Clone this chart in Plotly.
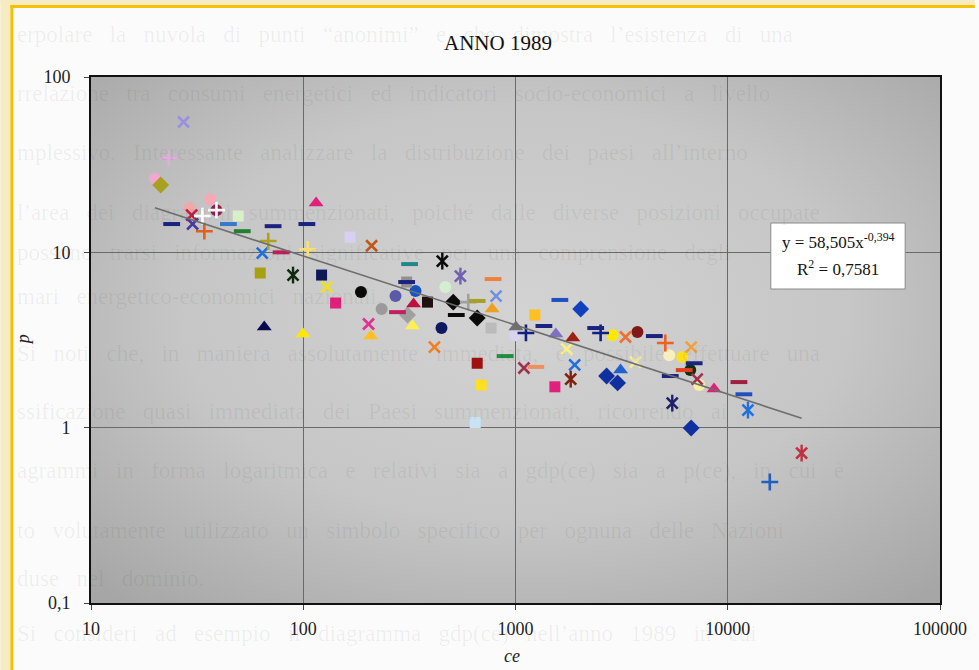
import base64
import numpy as np
import plotly.graph_objects as go

# ---- ANNO 1989: p versus ce, one marker per country ----
circle_ce = [20, 36.5, 39.0, 29.1, 187, 272, 234, 338, 467, 448, 995, 2866, 3754, 5300, 6105, 6657, 7334]
circle_p = [26.2, 20.1, 17.4, 17.9, 5.94, 5.63, 4.75, 6.02, 6.34, 3.70, 3.37, 3.37, 3.51, 2.59, 2.53, 2.13, 1.75]
circle_col = ["#F0A8D0", "#F7A8B4", "#8B2252", "#F0A8A8", "#0A0A0A", "#5A5AA8", "#9A9A9A", "#1454C0",
              "#D4EED0", "#101860", "#D8D4F0", "#FFE800", "#801818", "#F8F0BC", "#FFE020", "#0F300F", "#F8F0A0"]

square_ce = [49.4, 166, 62.7, 122, 142, 307, 385, 767, 1234, 660, 1533, 689, 646]
square_p = [16.1, 12.2, 7.62, 7.42, 5.14, 6.77, 5.20, 3.70, 4.39, 2.33, 1.71, 1.75, 1.07]
square_col = ["#D8F0C8", "#D8D0F0", "#A8A010", "#101858", "#E0207A", "#909090", "#201010", "#BBBBBB",
              "#FFC020", "#A01010", "#E0207A", "#FFE020", "#C8E4F4"]

diamond_ce = [21.3, 509, 310, 660, 2028, 2687, 3027, 6724]
diamond_p = [24.2, 5.20, 4.39, 4.22, 4.75, 1.97, 1.80, 0.995]
diamond_col = ["#A8A020", "#0A0A0A", "#A0A0A0", "#0A0A0A", "#1040C0", "#1030A0", "#1030A0", "#1030A0"]

triangle_ce = [115, 65.5, 99.7, 208, 331, 776, 327, 1005, 1549, 1862, 3126, 8616]
triangle_p = [19.1, 3.75, 3.42, 3.33, 5.07, 4.75, 3.80, 3.75, 3.42, 3.25, 2.13, 1.66]
triangle_col = ["#E0207A", "#0A0A50", "#FFE800", "#FFC020", "#C01040", "#F0A020", "#FFF050", "#707070",
                "#8070C0", "#A02010", "#2060D0", "#E0207A"]

cross_ce = [27.3, 29.8, 30.1, 210, 64.1, 129, 203, 810, 415, 1743, 1096, 1901, 3298, 6724, 7177, 3674]
cross_p = [55.4, 16.3, 14.5, 10.9, 9.9, 6.34, 3.90, 5.63, 2.88, 2.81, 2.19, 2.28, 3.29, 2.88, 1.89, 2.37]
cross_col = ["#9B8FE0", "#C02040", "#4838A0", "#C05818", "#2070E0", "#F0E020", "#E03090", "#7090E0",
             "#F08020", "#F8F080", "#A03050", "#2070E0", "#F07030", "#F0A040", "#A03050", "#F4ECA0"]

star_ce = [89.5, 452, 550, 1820, 12450, 5477, 22290]
star_p = [7.42, 8.91, 7.32, 1.89, 1.26, 1.38, 0.716]
star_col = ["#0F2A0F", "#0A0A0A", "#7060B0", "#802010", "#2070E0", "#20206A", "#C03040"]

plus_ce = [23.2, 39.0, 33.5, 34.2, 68.4, 105, 599, 1120, 2518, 5079, 15780]
plus_p = [34.5, 17.4, 16.1, 13.2, 11.6, 10.4, 5.20, 3.47, 3.47, 3.04, 0.49]
plus_col = ["#E8A8E0", "#FFFFFF", "#FFFFFF", "#E06020", "#B0A020", "#F8E070", "#A0A0A0", "#102080",
            "#102080", "#F06020", "#2060C0"]

dash_ce = [24.0, 44.4, 51.6, 72.1, 104, 78.7, 278, 317, 307, 784, 660, 526, 1361, 1618, 2387, 894,
           1247, 4508, 6946, 6237, 5358, 11290, 11910]
dash_p = [14.5, 14.5, 13.2, 14.1, 14.5, 10.0, 4.56, 8.57, 6.77, 7.04, 5.28, 4.39, 3.80, 5.35, 3.70, 2.56,
          2.22, 3.33, 2.33, 2.13, 1.97, 1.82, 1.55]
dash_col = ["#1A237E", "#3878C8", "#208030", "#1A237E", "#1A237E", "#C0205A", "#C02060", "#208888",
            "#1A237E", "#F08040", "#A8A020", "#0A0A0A", "#1A237E", "#2050C0", "#1A237E", "#209040",
            "#F09060", "#1A237E", "#1A237E", "#E04020", "#1A237E", "#A02040", "#2050C0"]

# power trendline y = A * x^B
trend_A = 58.505
trend_B = -0.394
trend_R2 = "0,7581"

x_ticks = [10, 100, 1000, 10000, 100000]
x_ticktext = ["10", "100", "1000", "10000", "100000"]
y_ticks = [0.1, 1, 10, 100]
y_ticktext = ["0,1", "1", "10", "100"]

page_lines = [
    "erpolare  la  nuvola  di  punti  \u201canonimi\u201d  e  che  dimostra  l\u2019esistenza  di  una",
    "rrelazione  tra  consumi  energetici  ed  indicatori  socio-economici  a  livello",
    "mplessivo.  Interessante  analizzare  la  distribuzione  dei  paesi  all\u2019interno",
    "l\u2019area  dei  diagrammi  summenzionati,  poich\u00e9  dalle  diverse  posizioni  occupate",
    "possono  trarsi  informazioni  significative  per  una  comprensione  degli",
    "mari  energetico-economici  nazionali.",
    "Si  noti  che,  in  maniera  assolutamente  immediata,  \u00e8  possibile  effettuare  una",
    "ssificazione  quasi  immediata  dei  Paesi  summenzionati,  ricorrendo  ai",
    "agrammi  in  forma  logaritmica  e  relativi  sia  a  gdp(ce)  sia  a  p(ce),  in  cui  \u00e8",
    "to  volutamente  utilizzato  un  simbolo  specifico  per  ognuna  delle  Nazioni",
    "duse  nel  dominio.",
    "Si  consideri  ad  esempio  il  diagramma  gdp(ce)  nell\u2019anno  1989  in  cui",
]
page_line_y = [34, 93, 152, 212, 252, 296, 353, 411, 470, 530, 578, 633]

# ---- geometry of the plotting area (pixels) ----
W, H = 979, 670
L, R, T, B = 91, 944, 77, 603
PW, PH = R - L, B - T


def fx(px):
    return (px - L) / PW


def fy(py):
    return (B - py) / PH


SERIF = "Liberation Serif, Times New Roman, serif"

fig = go.Figure()


def add_group(xs, ys, cols, symbol, size, lw=0.0):
    open_sym = symbol.endswith("open")
    marker = dict(symbol=symbol, size=size, color=cols)
    if open_sym:
        marker["line"] = dict(width=lw, color=cols)
    else:
        marker["line"] = dict(width=0)
    fig.add_trace(go.Scatter(x=xs, y=ys, mode="markers", marker=marker,
                             hoverinfo="x+y", showlegend=False))


add_group(circle_ce, circle_p, circle_col, "circle", 12)
add_group(square_ce, square_p, square_col, "square", 11)
add_group(diamond_ce, diamond_p, diamond_col, "diamond", 13)
add_group(triangle_ce, triangle_p, triangle_col, "triangle-up", 13)
add_group(cross_ce, cross_p, cross_col, "x-thin-open", 11, 2.6)
add_group(star_ce, star_p, star_col, "x-thin-open", 11, 2.6)
add_group(star_ce, star_p, star_col, "line-ns-open", 12, 2.4)
add_group(plus_ce, plus_p, plus_col, "cross-thin-open", 12, 2.6)
add_group(dash_ce, dash_p, dash_col, "line-ew-open", 12, 4)

# trendline over the span of the data
all_ce = circle_ce + square_ce + diamond_ce + triangle_ce + cross_ce + star_ce + plus_ce + dash_ce
tx = np.logspace(np.log10(min(all_ce)), np.log10(max(all_ce)), 60)
fig.add_trace(go.Scatter(x=tx, y=trend_A * tx ** trend_B, mode="lines",
                         line=dict(color="#6E6E6E", width=1.6), hoverinfo="skip", showlegend=False))

# grey gradient behind the plotting area
grad_svg = (
    '<svg xmlns="http://www.w3.org/2000/svg" width="853" height="526" viewBox="0 0 853 526" '
    'preserveAspectRatio="none"><defs><radialGradient id="g" cx="0.5" cy="0.45" r="0.72">'
    '<stop offset="0" stop-color="#D3D3D3"/><stop offset="0.55" stop-color="#C6C6C6"/>'
    '<stop offset="1" stop-color="#A6A6A6"/></radialGradient></defs>'
    '<rect width="853" height="526" fill="url(#g)"/></svg>'
)
grad_uri = "data:image/svg+xml;base64," + base64.b64encode(grad_svg.encode()).decode()

axis_common = dict(
    type="log", showgrid=True, gridcolor="#6A6A6A", gridwidth=1,
    showline=True, linecolor="#111111", linewidth=2, mirror=True,
    ticks="outside", ticklen=5, tickcolor="#444444", tickwidth=1,
    tickfont=dict(family=SERIF, size=18, color="#1E1E1E"), zeroline=False,
)

fig.update_layout(
    width=W, height=H,
    margin=dict(l=L, r=W - R, t=T, b=H - B),
    paper_bgcolor="#FBFBFB", plot_bgcolor="rgba(0,0,0,0)",
    showlegend=False,
    xaxis=dict(range=[1, 5], tickvals=x_ticks, ticktext=x_ticktext, ticklabelstandoff=3, **axis_common),
    yaxis=dict(range=[-1, 2], tickvals=y_ticks, ticktext=y_ticktext, ticklabelstandoff=10, **axis_common),
    images=[dict(source=grad_uri, xref="paper", yref="paper", x=0, y=1, sizex=1, sizey=1,
                 sizing="stretch", layer="below")],
)

# outer frame of the page
shapes = [
    dict(type="rect", xref="paper", yref="paper", x0=fx(0), x1=fx(10), y0=fy(H), y1=fy(0),
         fillcolor="#F7EBC3", line=dict(width=0), layer="above"),
    dict(type="rect", xref="paper", yref="paper", x0=fx(0), x1=fx(W), y0=fy(5), y1=fy(0),
         fillcolor="#F7EBC3", line=dict(width=0), layer="above"),
    dict(type="rect", xref="paper", yref="paper", x0=fx(10), x1=fx(13), y0=fy(H), y1=fy(5),
         fillcolor="#F6C200", line=dict(width=0), layer="above"),
    dict(type="rect", xref="paper", yref="paper", x0=fx(10), x1=fx(W), y0=fy(8), y1=fy(5),
         fillcolor="#F6C200", line=dict(width=0), layer="above"),
    # trendline equation box
    dict(type="rect", xref="paper", yref="paper", x0=fx(774), x1=fx(909), y0=fy(289), y1=fy(223),
         fillcolor="#FFFFFF", line=dict(width=1, color="#8A8A8A"), layer="above"),
]
fig.update_layout(shapes=shapes)

ann = []
# faint page text showing through
for txt, py in zip(page_lines, page_line_y):
    ann.append(dict(text=txt.replace("  ", "\u00a0\u00a0\u00a0"), xref="paper", yref="paper",
                    x=fx(15), y=fy(py), xanchor="left", yanchor="middle", showarrow=False,
                    font=dict(family=SERIF, size=23, color="rgba(30,30,30,0.065)")))

ann += [
    dict(text="ANNO 1989", xref="paper", yref="paper", x=fx(500), y=fy(43), xanchor="center",
         yanchor="middle", showarrow=False, font=dict(family=SERIF, size=21, color="#111111")),
    dict(text="<i>ce</i>", xref="paper", yref="paper", x=fx(514), y=fy(656), xanchor="center",
         yanchor="middle", showarrow=False, font=dict(family=SERIF, size=18, color="#222222")),
    dict(text="<i>p</i>", xref="paper", yref="paper", x=fx(23), y=fy(340), xanchor="center",
         yanchor="middle", showarrow=False, textangle=-90,
         font=dict(family=SERIF, size=18, color="#222222")),
    dict(text="y = 58,505x<sup>-0,394</sup>", xref="paper", yref="paper", x=fx(842), y=fy(241),
         xanchor="center", yanchor="middle", showarrow=False,
         font=dict(family=SERIF, size=17, color="#111111")),
    dict(text="R<sup>2</sup> = " + trend_R2, xref="paper", yref="paper", x=fx(842), y=fy(268),
         xanchor="center", yanchor="middle", showarrow=False,
         font=dict(family=SERIF, size=17, color="#111111")),
]
fig.update_layout(annotations=ann)

fig.write_html("out.html")
